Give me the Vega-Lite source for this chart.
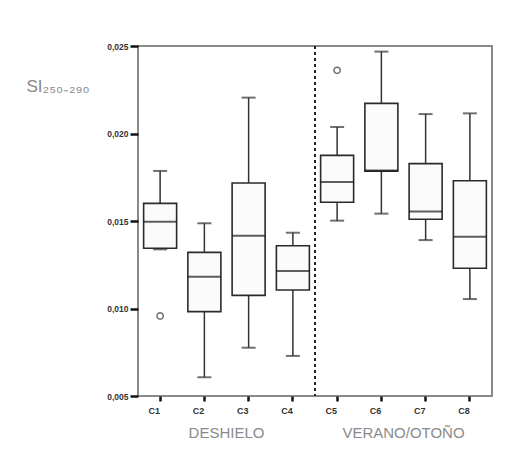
{
  "$schema": "https://vega.github.io/schema/vega-lite/v6.json",
  "autosize": {"type": "none"},
  "width": 354,
  "height": 350,
  "padding": {"left": 138, "top": 46, "right": 23, "bottom": 63},
  "background": "white",
  "config": {
    "locale": {"number": {"decimal": ",", "thousands": ".", "grouping": [3], "currency": ["", " €"]}},
    "view": {"stroke": "#8a8a8a", "strokeWidth": 2},
    "font": "Liberation Sans"
  },
  "datasets": {
    "boxes": [
      {"cat": "C1", "season": "DESHIELO", "lower": 0.01338, "q1": 0.01344, "median": 0.01496, "q3": 0.01601, "upper": 0.01786},
      {"cat": "C2", "season": "DESHIELO", "lower": 0.00607, "q1": 0.00982, "median": 0.01182, "q3": 0.01321, "upper": 0.01487},
      {"cat": "C3", "season": "DESHIELO", "lower": 0.00776, "q1": 0.01075, "median": 0.01416, "q3": 0.01717, "upper": 0.02205},
      {"cat": "C4", "season": "DESHIELO", "lower": 0.00729, "q1": 0.01106, "median": 0.01214, "q3": 0.01359, "upper": 0.01433},
      {"cat": "C5", "season": "VERANO/OTOÑO", "lower": 0.01502, "q1": 0.01607, "median": 0.01723, "q3": 0.01875, "upper": 0.02037},
      {"cat": "C6", "season": "VERANO/OTOÑO", "lower": 0.01542, "q1": 0.01785, "median": 0.01788, "q3": 0.02172, "upper": 0.02468},
      {"cat": "C7", "season": "VERANO/OTOÑO", "lower": 0.01391, "q1": 0.0151, "median": 0.01555, "q3": 0.01828, "upper": 0.02111},
      {"cat": "C8", "season": "VERANO/OTOÑO", "lower": 0.01054, "q1": 0.0123, "median": 0.0141, "q3": 0.0173, "upper": 0.02115}
    ],
    "outliers": [
      {"cat": "C1", "value": 0.00957},
      {"cat": "C5", "value": 0.02361}
    ],
    "seasons": [
      {"season": "DESHIELO", "divider": false},
      {"season": "VERANO/OTOÑO", "divider": true}
    ]
  },
  "resolve": {"scale": {"x": "independent"}, "axis": {"x": "independent"}},
  "layer": [
    {
      "data": {"name": "seasons"},
      "transform": [{"filter": "datum.divider"}],
      "mark": {"type": "rule", "color": "#222", "strokeWidth": 2, "strokeDash": [3, 3]},
      "encoding": {
        "x": {
          "field": "season", "type": "nominal", "bandPosition": 0,
          "scale": {"domain": ["DESHIELO", "VERANO/OTOÑO"], "paddingInner": 0, "paddingOuter": 0},
          "axis": {"orient": "bottom", "title": null, "domain": false, "ticks": false, "labelAngle": 0, "offset": 29, "labelFontSize": 15, "labelColor": "#8a8a8a", "labelFont": "Liberation Sans", "labelPadding": 0}
        }
      }
    },
    {
      "data": {"name": "boxes"},
      "layer": [
        {
          "mark": {"type": "rule", "color": "#333", "strokeWidth": 1.5},
          "encoding": {
            "x": {"field": "cat", "type": "nominal"},
            "y": {"field": "lower", "type": "quantitative"},
            "y2": {"field": "q1"}
          }
        },
        {
          "mark": {"type": "rule", "color": "#333", "strokeWidth": 1.5},
          "encoding": {
            "x": {"field": "cat", "type": "nominal"},
            "y": {"field": "q3", "type": "quantitative"},
            "y2": {"field": "upper"}
          }
        },
        {
          "mark": {"type": "tick", "orient": "horizontal", "color": "#333", "size": 14, "thickness": 2},
          "encoding": {
            "x": {"field": "cat", "type": "nominal"},
            "y": {"field": "lower", "type": "quantitative"}
          }
        },
        {
          "mark": {"type": "tick", "orient": "horizontal", "color": "#333", "size": 14, "thickness": 2},
          "encoding": {
            "x": {"field": "cat", "type": "nominal"},
            "y": {"field": "upper", "type": "quantitative"}
          }
        },
        {
          "mark": {"type": "bar", "size": 33, "fill": "#fbfbfb", "stroke": "#2a2a2a", "strokeWidth": 1.6},
          "encoding": {
            "x": {
              "field": "cat", "type": "nominal",
              "scale": {"paddingInner": 0, "paddingOuter": 0},
              "axis": {"orient": "bottom", "title": null, "labelAngle": 0, "domain": false, "tickColor": "#111", "tickWidth": 2.5, "tickSize": 5, "labelFontSize": 9, "labelFontWeight": "bold", "labelColor": "#333", "labelPadding": 9}
            },
            "y": {
              "field": "q1", "type": "quantitative",
              "scale": {"domain": [0.005, 0.025], "nice": false, "zero": false},
              "axis": {
                "values": [0.005, 0.01, 0.015, 0.02, 0.025],
                "format": ".3f",
                "grid": false,
                "domain": false,
                "tickColor": "#111", "tickWidth": 2.5, "tickSize": 8,
                "labelFontSize": 8.5, "labelFontWeight": "bold", "labelColor": "#333", "labelPadding": 2,
                "title": "SI₂₅₀₋₂₉₀",
                "titleAngle": 0, "titleAlign": "left", "titleBaseline": "middle",
                "titleX": -112, "titleY": 40,
                "titleFontSize": 17, "titleFontWeight": "normal", "titleColor": "#8a8a8a"
              }
            },
            "y2": {"field": "q3"}
          }
        },
        {
          "mark": {"type": "tick", "orient": "horizontal", "color": "#1a1a1a", "size": 33, "thickness": 2},
          "encoding": {
            "x": {"field": "cat", "type": "nominal"},
            "y": {"field": "median", "type": "quantitative"}
          }
        },
        {
          "data": {"name": "outliers"},
          "mark": {"type": "point", "shape": "circle", "size": 40, "stroke": "#333", "strokeWidth": 1.5, "filled": false},
          "encoding": {
            "x": {"field": "cat", "type": "nominal"},
            "y": {"field": "value", "type": "quantitative"}
          }
        }
      ]
    }
  ]
}
